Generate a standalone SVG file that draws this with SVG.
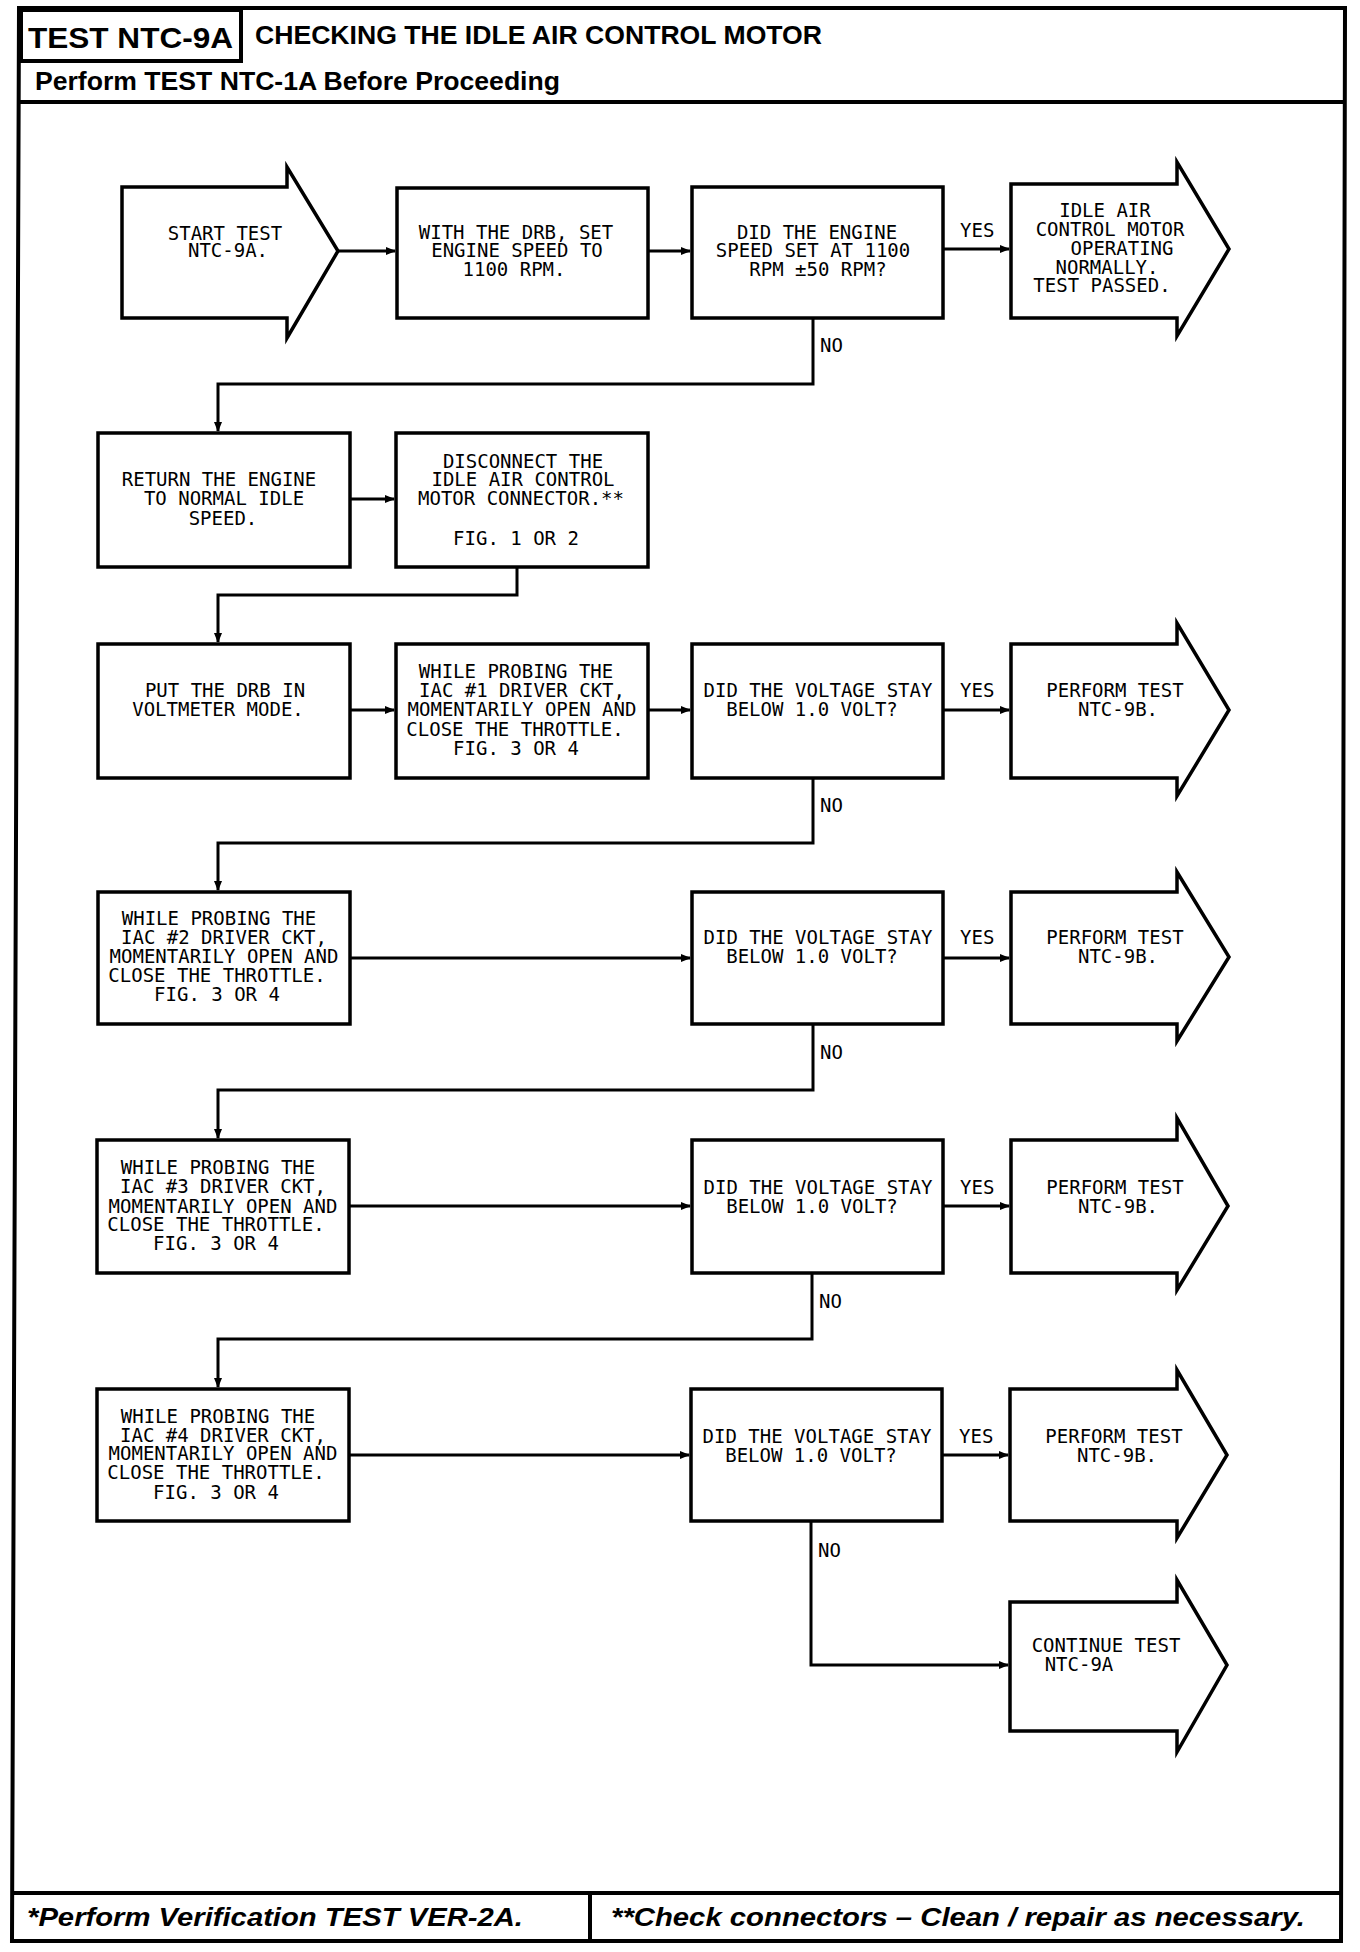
<svg xmlns="http://www.w3.org/2000/svg" width="1360" height="1952" viewBox="0 0 1360 1952">
<defs>
<marker id="ah" markerWidth="10" markerHeight="8" refX="9" refY="4" orient="auto" markerUnits="userSpaceOnUse"><path d="M0,0 L10,4 L0,8 Z" fill="#000"/></marker>
</defs>
<style>
.frame{fill:none;stroke:#000;stroke-width:4}
.box{fill:#fff;stroke:#000;stroke-width:3.5;stroke-linejoin:miter}
.conn{fill:none;stroke:#000;stroke-width:3;marker-end:url(#ah)}
.t{font-family:"DejaVu Sans Mono","Liberation Mono",monospace;font-size:19px;fill:#000;text-anchor:middle}
.l{font-family:"DejaVu Sans Mono","Liberation Mono",monospace;font-size:19px;fill:#000}
.hd{font-family:"Liberation Sans",Arial,sans-serif;font-weight:bold;fill:#000}
.ft{font-family:"Liberation Sans",Arial,sans-serif;font-weight:bold;font-style:italic;fill:#000}
</style>
<rect width="1360" height="1952" fill="#fff"/>
<g id="frame">
<path class="frame" d="M19,8 L1345,8 L1341,1941 L12,1941 Z"/>
<rect class="frame" x="21" y="10" width="220" height="51"/>
<line class="frame" x1="17" y1="102" x2="1344" y2="102"/>
<line class="frame" x1="12" y1="1893" x2="1341" y2="1893"/>
<line class="frame" x1="590" y1="1893" x2="590" y2="1941"/>
</g>
<g id="header">
<text class="hd" x="28" y="48" font-size="30" textLength="205" lengthAdjust="spacingAndGlyphs">TEST NTC-9A</text>
<text class="hd" x="255" y="44" font-size="26" textLength="567" lengthAdjust="spacingAndGlyphs">CHECKING THE IDLE AIR CONTROL MOTOR</text>
<text class="hd" x="35" y="90" font-size="25" textLength="525" lengthAdjust="spacingAndGlyphs">Perform TEST NTC-1A Before Proceeding</text>
</g>
<g id="footer">
<text class="ft" x="27" y="1926" font-size="26" textLength="496" lengthAdjust="spacingAndGlyphs">*Perform Verification TEST VER-2A.</text>
<text class="ft" x="611" y="1926" font-size="26" textLength="694" lengthAdjust="spacingAndGlyphs">**Check connectors – Clean / repair as necessary.</text>
</g>
<g id="connectors">
<path class="conn" d="M338,251 H395"/>
<path class="conn" d="M648,251 H690"/>
<path class="conn" d="M943,249 H1009"/>
<path class="conn" d="M813,318 V384 H218 V431"/>
<path class="conn" d="M350,499 H394"/>
<path class="conn" d="M517,567 V595 H218 V642"/>
<path class="conn" d="M350,710 H394"/>
<path class="conn" d="M648,710 H690"/>
<path class="conn" d="M943,710 H1009"/>
<path class="conn" d="M813,778 V843 H218 V890"/>
<path class="conn" d="M350,958 H690"/>
<path class="conn" d="M943,958 H1009"/>
<path class="conn" d="M813,1024 V1090 H218 V1138"/>
<path class="conn" d="M349,1206 H690"/>
<path class="conn" d="M943,1206 H1009"/>
<path class="conn" d="M812,1273 V1339 H218 V1387"/>
<path class="conn" d="M349,1455 H689"/>
<path class="conn" d="M943,1455 H1008"/>
<path class="conn" d="M811,1521 V1665 H1008"/>
<text class="l" x="960" y="237">YES</text>
<text class="l" x="820" y="352">NO</text>
<text class="l" x="960" y="697">YES</text>
<text class="l" x="820" y="812">NO</text>
<text class="l" x="960" y="944">YES</text>
<text class="l" x="820" y="1059">NO</text>
<text class="l" x="960" y="1194">YES</text>
<text class="l" x="819" y="1308">NO</text>
<text class="l" x="959" y="1443">YES</text>
<text class="l" x="818" y="1557">NO</text>
</g>
<g id="start">
<path class="box" d="M122,187 H287 V167 L338,251 L287,338 V318 H122 Z"/>
<text class="t" x="225" y="240">START TEST</text>
<text class="t" x="228" y="257">NTC-9A.</text>
</g>
<g id="set-speed">
<rect class="box" x="397" y="188" width="251" height="130"/>
<text class="t" x="516" y="239">WITH THE DRB, SET</text>
<text class="t" x="517" y="257">ENGINE SPEED TO</text>
<text class="t" x="514" y="276">1100 RPM.</text>
</g>
<g id="q-speed">
<rect class="box" x="692" y="187" width="251" height="131"/>
<text class="t" x="817" y="239">DID THE ENGINE</text>
<text class="t" x="813" y="257">SPEED SET AT 1100</text>
<text class="t" x="818" y="276">RPM ±50 RPM?</text>
</g>
<g id="passed">
<path class="box" d="M1011,184 H1177 V162 L1229,249 L1177,336 V318 H1011 Z"/>
<text class="t" x="1105" y="217">IDLE AIR</text>
<text class="t" x="1110" y="236">CONTROL MOTOR</text>
<text class="t" x="1122" y="255">OPERATING</text>
<text class="t" x="1107" y="274">NORMALLY.</text>
<text class="t" x="1102" y="292">TEST PASSED.</text>
</g>
<g id="return-idle">
<rect class="box" x="98" y="433" width="252" height="134"/>
<text class="t" x="219" y="486">RETURN THE ENGINE</text>
<text class="t" x="224" y="505">TO NORMAL IDLE</text>
<text class="t" x="223" y="525">SPEED.</text>
</g>
<g id="disconnect">
<rect class="box" x="396" y="433" width="252" height="134"/>
<text class="t" x="523" y="468">DISCONNECT THE</text>
<text class="t" x="523" y="486">IDLE AIR CONTROL</text>
<text class="t" x="521" y="505">MOTOR CONNECTOR.**</text>
<text class="t" x="516" y="545">FIG. 1 OR 2</text>
</g>
<g id="voltmeter">
<rect class="box" x="98" y="644" width="252" height="134"/>
<text class="t" x="225" y="697">PUT THE DRB IN</text>
<text class="t" x="218" y="716">VOLTMETER MODE.</text>
</g>
<g id="probe-1">
<rect class="box" x="396" y="644" width="252" height="134"/>
<text class="t" x="516" y="678">WHILE PROBING THE</text>
<text class="t" x="522" y="697">IAC #1 DRIVER CKT,</text>
<text class="t" x="522" y="716">MOMENTARILY OPEN AND</text>
<text class="t" x="515" y="736">CLOSE THE THROTTLE.</text>
<text class="t" x="516" y="755">FIG. 3 OR 4</text>
</g>
<g id="q-1">
<rect class="box" x="692" y="644" width="251" height="134"/>
<text class="t" x="818" y="697">DID THE VOLTAGE STAY</text>
<text class="t" x="812" y="716">BELOW 1.0 VOLT?</text>
</g>
<g id="ntc9b-1">
<path class="box" d="M1011,644 H1177 V623 L1229,710 L1177,796 V778 H1011 Z"/>
<text class="t" x="1115" y="697">PERFORM TEST</text>
<text class="t" x="1118" y="716">NTC-9B.</text>
</g>
<g id="probe-2">
<rect class="box" x="98" y="892" width="252" height="132"/>
<text class="t" x="219" y="925">WHILE PROBING THE</text>
<text class="t" x="224" y="944">IAC #2 DRIVER CKT,</text>
<text class="t" x="224" y="963">MOMENTARILY OPEN AND</text>
<text class="t" x="217" y="982">CLOSE THE THROTTLE.</text>
<text class="t" x="217" y="1001">FIG. 3 OR 4</text>
</g>
<g id="q-2">
<rect class="box" x="692" y="892" width="251" height="132"/>
<text class="t" x="818" y="944">DID THE VOLTAGE STAY</text>
<text class="t" x="812" y="963">BELOW 1.0 VOLT?</text>
</g>
<g id="ntc9b-2">
<path class="box" d="M1011,892 H1177 V872 L1229,957 L1177,1041 V1024 H1011 Z"/>
<text class="t" x="1115" y="944">PERFORM TEST</text>
<text class="t" x="1118" y="963">NTC-9B.</text>
</g>
<g id="probe-3">
<rect class="box" x="97" y="1140" width="252" height="133"/>
<text class="t" x="218" y="1174">WHILE PROBING THE</text>
<text class="t" x="223" y="1193">IAC #3 DRIVER CKT,</text>
<text class="t" x="223" y="1213">MOMENTARILY OPEN AND</text>
<text class="t" x="216" y="1231">CLOSE THE THROTTLE.</text>
<text class="t" x="216" y="1250">FIG. 3 OR 4</text>
</g>
<g id="q-3">
<rect class="box" x="692" y="1140" width="251" height="133"/>
<text class="t" x="818" y="1194">DID THE VOLTAGE STAY</text>
<text class="t" x="812" y="1213">BELOW 1.0 VOLT?</text>
</g>
<g id="ntc9b-3">
<path class="box" d="M1011,1140 H1177 V1118 L1228,1206 L1177,1290 V1273 H1011 Z"/>
<text class="t" x="1115" y="1194">PERFORM TEST</text>
<text class="t" x="1118" y="1213">NTC-9B.</text>
</g>
<g id="probe-4">
<rect class="box" x="97" y="1389" width="252" height="132"/>
<text class="t" x="218" y="1423">WHILE PROBING THE</text>
<text class="t" x="223" y="1442">IAC #4 DRIVER CKT,</text>
<text class="t" x="223" y="1460">MOMENTARILY OPEN AND</text>
<text class="t" x="216" y="1479">CLOSE THE THROTTLE.</text>
<text class="t" x="216" y="1499">FIG. 3 OR 4</text>
</g>
<g id="q-4">
<rect class="box" x="691" y="1389" width="251" height="132"/>
<text class="t" x="817" y="1443">DID THE VOLTAGE STAY</text>
<text class="t" x="811" y="1462">BELOW 1.0 VOLT?</text>
</g>
<g id="ntc9b-4">
<path class="box" d="M1010,1389 H1177 V1370 L1227,1455 L1177,1538 V1521 H1010 Z"/>
<text class="t" x="1114" y="1443">PERFORM TEST</text>
<text class="t" x="1117" y="1462">NTC-9B.</text>
</g>
<g id="continue">
<path class="box" d="M1010,1602 H1177 V1580 L1227,1665 L1177,1752 V1731 H1010 Z"/>
<text class="t" x="1106" y="1652">CONTINUE TEST</text>
<text class="t" x="1079" y="1671">NTC-9A</text>
</g>
</svg>
